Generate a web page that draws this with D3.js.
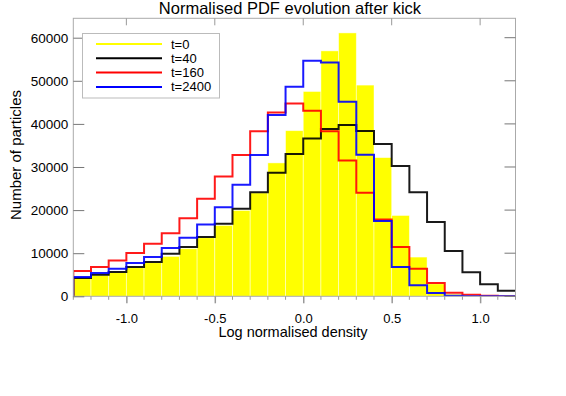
<!DOCTYPE html>
<html><head><meta charset="utf-8">
<script src="https://cdn.jsdelivr.net/npm/d3@7"></script>
<style>body{margin:0;background:#fff}svg{display:block}text{font-family:"Liberation Sans",Arial,sans-serif;fill:#000}</style>
</head><body><svg id="c" width="566" height="396"></svg>
<script>
// bin left edges: -1.3 .. 1.1, width 0.1
const binStart = -1.3, binWidth = 0.1;
const t0 =    [4100,4860,5490,6640,7800,9260,11040,13590,16440,19910,24000,30950,38430,47520,56940,61110,49000,32180,18750,9100,2900,500,100,0,0];
const t40 =   [4240,5020,5630,6790,7940,9880,11420,13730,16820,20300,24150,28640,32990,36640,38820,39750,38360,35350,30250,24150,17250,10490,5560,2780,1270];
const t160 =  [5860,6780,8330,10020,12200,14650,18130,22620,27780,32800,38270,42660,44750,43060,38270,31480,24000,17820,11410,6410,3080,810,350,120,30];
const t2400 = [4470,5390,6410,7710,9100,11180,13590,16670,20670,25860,32800,42060,48610,54630,54240,45140,32870,17480,6790,2550,760,120,40,20,10];
const seriesNames = ["t=0","t=40","t=160","t=2400"];
const seriesColors = ["#ffff00","#000000","#ff0000","#0000ff"];
const xTicks = [-1.0,-0.5,0.0,0.5,1.0];
const yTicks = [0,10000,20000,30000,40000,50000,60000];

const svg = d3.select("#c");
const L=73.3, R=515.5, T=18.3, B=296.3;
const x = d3.scaleLinear().domain([-1.3,1.2]).range([L,R]);
const y = d3.scaleLinear().domain([0,64500]).range([B,T]);
const edge = i => binStart + i*binWidth;

svg.append("defs").append("clipPath").attr("id","clip").append("rect")
  .attr("x",L).attr("y",T).attr("width",R-L).attr("height",B-T);
const g = svg.append("g").attr("clip-path","url(#clip)");

// yellow filled bars
g.selectAll("rect.bar").data(t0).enter().append("rect")
  .attr("x",(d,i)=>x(edge(i))).attr("width",(d,i)=>x(edge(i+1))-x(edge(i)))
  .attr("y",d=>y(d)).attr("height",d=>B-y(d))
  .attr("fill",seriesColors[0]).attr("stroke","rgba(255,255,255,0.55)").attr("stroke-width",0.8);

const line = d3.line().x(d=>x(d[0])).y(d=>y(d[1])).curve(d3.curveStepAfter);
[[t40,1],[t160,2],[t2400,3]].forEach(([vals,k])=>{
  const pts=[[edge(0),0]];
  vals.forEach((v,i)=>pts.push([edge(i),v]));
  pts.push([edge(vals.length),vals[vals.length-1]]);
  g.append("path").attr("d",line(pts)).attr("fill","none")
   .attr("stroke",seriesColors[k]).attr("stroke-width",2).attr("stroke-opacity",0.9);
});

// frame
const frame = svg.append("g");
frame.append("rect").attr("x",L).attr("y",T).attr("width",R-L).attr("height",B-T)
  .attr("fill","none").attr("stroke","#aaa").attr("stroke-width",1);

// bottom axis
const xAx = d3.axisBottom(x).tickValues(xTicks).tickSize(7).tickFormat(d=>d.toFixed(1));
const gx = svg.append("g").attr("transform",`translate(0,${B})`).call(xAx);
gx.select(".domain").remove();
gx.selectAll(".tick line").attr("stroke","#999").attr("stroke-width",1.5);
gx.selectAll(".tick text").attr("font-size",13).attr("dy","1.25em").attr("font-family","Liberation Sans, Arial, sans-serif");
const minor = d3.range(-13,13).map(v=>v/10).filter(v=>Math.abs(v*2-Math.round(v*2))>1e-6);
svg.append("g").selectAll("line").data(minor).enter().append("line")
  .attr("x1",d=>x(d)).attr("x2",d=>x(d)).attr("y1",B).attr("y2",B+3.5).attr("stroke","#999");
// top ticks
svg.append("g").selectAll("line").data(xTicks).enter().append("line")
  .attr("x1",d=>x(d)).attr("x2",d=>x(d)).attr("y1",T).attr("y2",T+7).attr("stroke","#999");

// left axis
const yAx = d3.axisLeft(y).tickValues(yTicks).tickSize(-11).tickPadding(5).tickFormat(d3.format("d"));
const gy = svg.append("g").attr("transform",`translate(${L},0)`).call(yAx);
gy.select(".domain").remove();
gy.selectAll(".tick line").attr("stroke","#777");
gy.selectAll(".tick text").attr("font-size",13.5).attr("x",-5).attr("font-family","Liberation Sans, Arial, sans-serif");
// right ticks
svg.append("g").selectAll("line").data(yTicks).enter().append("line")
  .attr("x1",R).attr("x2",R-11).attr("y1",d=>y(d)).attr("y2",d=>y(d)).attr("stroke","#777");

// titles
svg.append("text").attr("x",290).attr("y",14).attr("text-anchor","middle").attr("font-size",16.5)
  .text("Normalised PDF evolution after kick");
svg.append("text").attr("x",293).attr("y",337).attr("text-anchor","middle").attr("font-size",14.5)
  .text("Log normalised density");
svg.append("text").attr("transform","translate(21,155) rotate(-90)").attr("text-anchor","middle").attr("font-size",15)
  .text("Number of particles");

// legend
const lg = svg.append("g");
lg.append("rect").attr("x",82.5).attr("y",33.5).attr("width",137).attr("height",64.5)
  .attr("fill","#fff").attr("stroke","#bbb");
seriesNames.forEach((n,i)=>{
  const yy = 44 + i*14.3;
  lg.append("line").attr("x1",96).attr("x2",162).attr("y1",yy).attr("y2",yy)
    .attr("stroke",seriesColors[i]).attr("stroke-width",2);
  lg.append("text").attr("x",171).attr("y",yy+4.5).attr("font-size",13).text(n);
});
</script></body></html>
